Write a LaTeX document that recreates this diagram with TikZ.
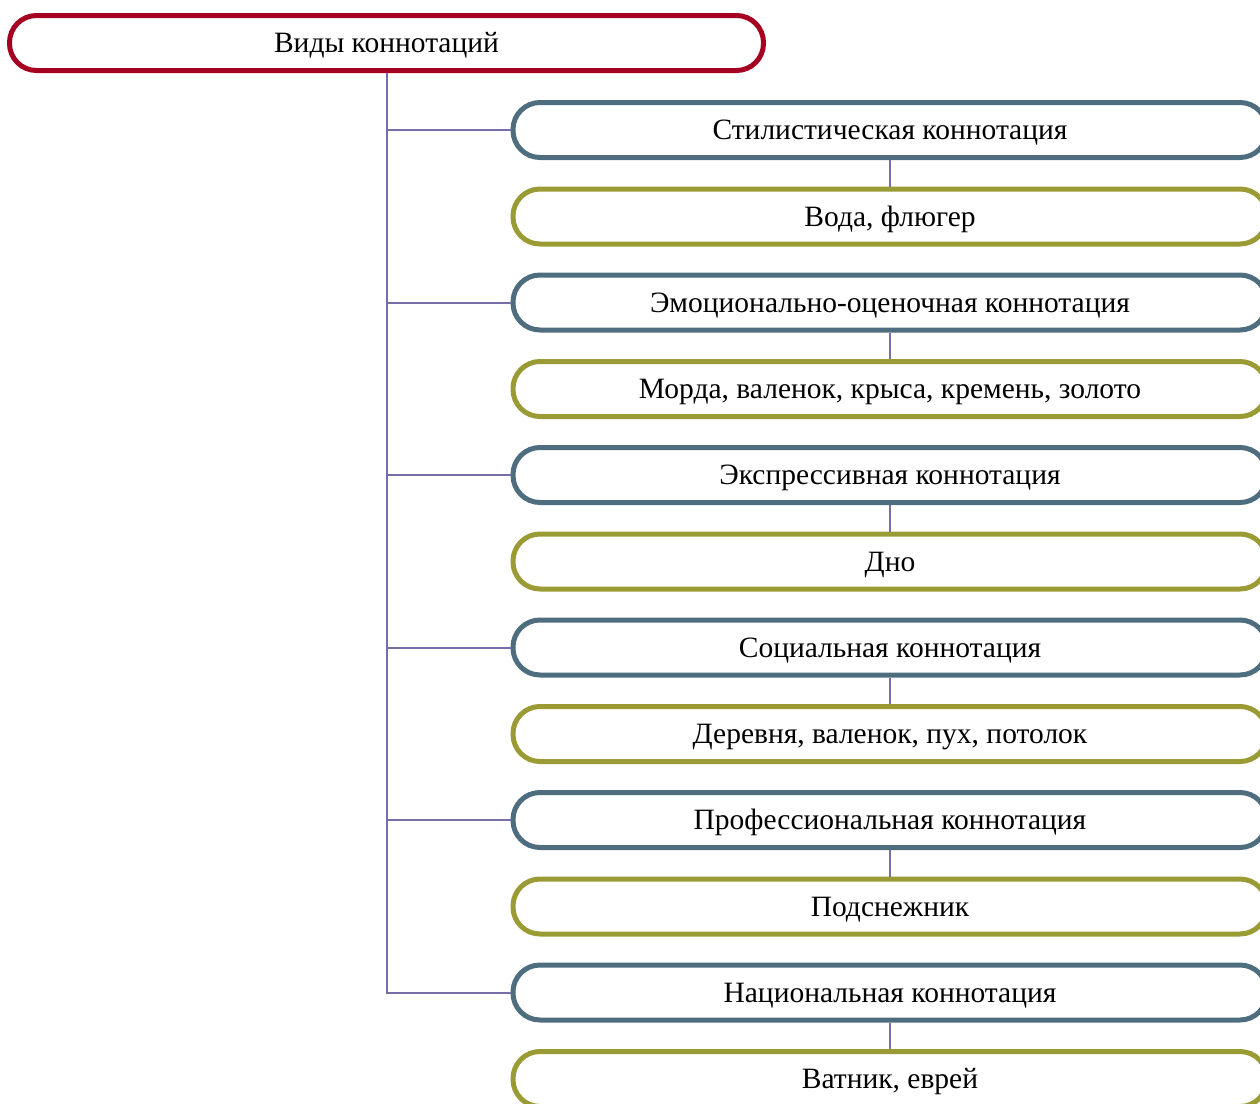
\documentclass[tikz,border=0pt]{standalone}
\usepackage{fontspec}
\setmainfont{Liberation Serif}
\definecolor{rootred}{RGB}{165,0,33}
\definecolor{kindblue}{RGB}{78,110,128}
\definecolor{wordolive}{RGB}{155,155,53}
\definecolor{linkviolet}{RGB}{118,110,168}
\tikzset{
  box/.style={rectangle, line width=2.5pt, rounded corners=13.5pt, minimum width=377pt, minimum height=27.5pt, text height=9.8pt, text depth=0pt, fill=white, font=\fontsize{14.75}{18}\selectfont},
  root/.style={box, draw=rootred},
  kind/.style={box, draw=kindblue},
  words/.style={box, draw=wordolive},
  link/.style={draw=linkviolet, line width=1pt}
}
\begin{document}
\begin{tikzpicture}[x=0.5pt,y=-0.5pt]
\useasboundingbox (0,0) rectangle (1260,1104);
\clip (0,0) rectangle (1260,1104);
% root
\node[root] (vidy) at (386.5,43) {Виды коннотаций};
% kinds and their examples
\node[kind] (stil) at (890,130) {Стилистическая коннотация};
\node[words] (stilw) at (890,216.5) {Вода, флюгер};
\node[kind] (emo) at (890,302.5) {Эмоционально-оценочная коннотация};
\node[words] (emow) at (890,389) {Морда, валенок, крыса, кремень, золото};
\node[kind] (expr) at (890,475) {Экспрессивная коннотация};
\node[words] (exprw) at (890,561.5) {Дно};
\node[kind] (soc) at (890,647.5) {Социальная коннотация};
\node[words] (socw) at (890,734) {Деревня, валенок, пух, потолок};
\node[kind] (prof) at (890,820) {Профессиональная коннотация};
\node[words] (profw) at (890,906.5) {Подснежник};
\node[kind] (nac) at (890,992.5) {Национальная коннотация};
\node[words] (nacw) at (890,1079) {Ватник, еврей};
% trunk and branches
\draw[link] (vidy.south) -- (vidy.south |- nac.west) -- (nac.west);
\draw[link] (vidy.south |- stil.west) -- (stil.west);
\draw[link] (vidy.south |- emo.west) -- (emo.west);
\draw[link] (vidy.south |- expr.west) -- (expr.west);
\draw[link] (vidy.south |- soc.west) -- (soc.west);
\draw[link] (vidy.south |- prof.west) -- (prof.west);
% kind to example
\draw[link] (stil.south) -- (stilw.north);
\draw[link] (emo.south) -- (emow.north);
\draw[link] (expr.south) -- (exprw.north);
\draw[link] (soc.south) -- (socw.north);
\draw[link] (prof.south) -- (profw.north);
\draw[link] (nac.south) -- (nacw.north);
\end{tikzpicture}
\end{document}
